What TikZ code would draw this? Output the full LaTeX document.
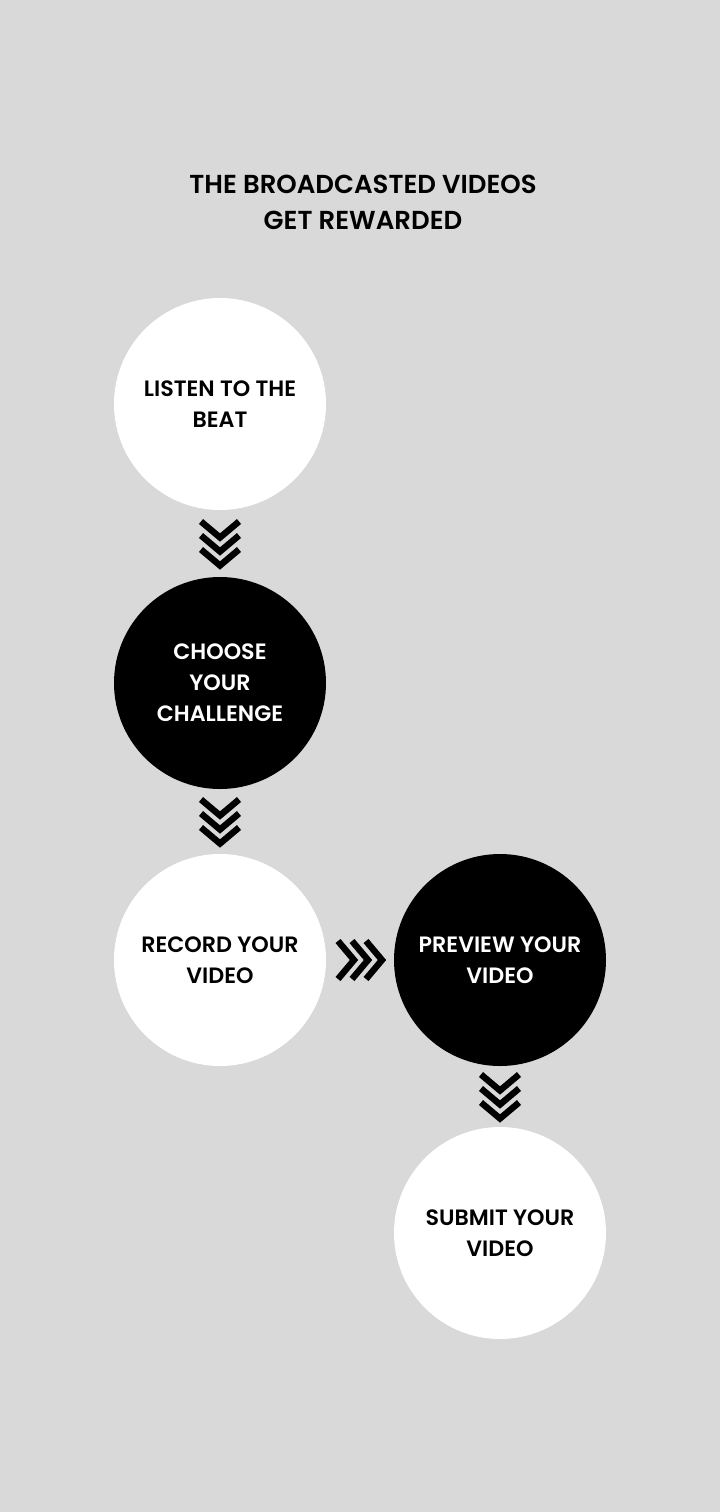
\documentclass[tikz,border=0pt]{standalone}
\usepackage{fontspec}
\setmainfont{Poppins SemiBold}
\usetikzlibrary{positioning}
\definecolor{bggray}{HTML}{D9D9D9}
\tikzset{
  whitestep/.style={circle,fill=white,minimum size=106pt,inner sep=0pt,text=black,
    font=\fontsize{11.1}{15.5}\selectfont,align=center},
  blackstep/.style={whitestep,fill=black,text=white},
  chevs/.pic={
    \foreach \d in {-14,0,14}
      \draw[line width=3.2pt] (\d-8,-19) -- (\d+8,0) -- (\d-8,19);
  }
}

\begin{document}
\begin{tikzpicture}[x=0.5pt,y=-0.5pt]
      \fill[bggray] (0,0) rectangle (720,1512);
      \useasboundingbox (0,0) rectangle (720,1512);

      \node[font=\fontsize{13}{18}\selectfont,align=center] (title) at (363,202)
        {THE BROADCASTED VIDEOS\\GET REWARDED};

      \node[whitestep] (listen) at (220,404) {LISTEN TO THE\\BEAT};
      \node[blackstep] (choose) at (220,683) {CHOOSE\\YOUR\\CHALLENGE};
      \node[whitestep] (record) at (220,960) {RECORD YOUR\\VIDEO};
      \node[blackstep] (preview) at (500,960) {PREVIEW YOUR\\VIDEO};
      \node[whitestep] (submit) at (500,1233) {SUBMIT YOUR\\VIDEO};

      % chevrons between the steps
      \path (listen) -- (choose) coordinate[midway] (c1);
      \path (choose) -- (record) coordinate[midway] (c2);
      \path (record) -- (preview) coordinate[midway] (c3);
      \path (preview) -- (submit) coordinate[midway] (c4);

      \pic[rotate=-90] at (c1) {chevs};
      \pic[rotate=-90] at (c2) {chevs};
      \pic at (c3) {chevs};
      \pic[rotate=-90] at (c4) {chevs};
    \end{tikzpicture}
\end{document}
